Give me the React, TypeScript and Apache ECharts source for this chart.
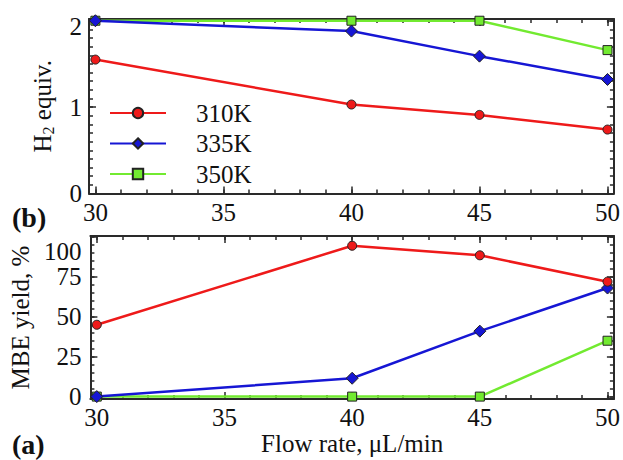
import React, { useEffect, useRef } from "react";
import * as echarts from "echarts";

const flowRates = [30, 40, 45, 50];
const seriesNames = ["310K", "335K", "350K"];
const h2_310 = [1.55, 1.03, 0.91, 0.74];
const h2_335 = [2.0, 1.88, 1.59, 1.32];
const h2_350 = [2.0, 2.0, 2.0, 1.66];
const mbe_310 = [45, 94.5, 88.5, 72];
const mbe_335 = [0, 11.5, 41, 68];
const mbe_350 = [0, 0, 0, 35];

const xMajor = [30, 35, 40, 45, 50];
const xMinor = [30,31,32,33,34,35,36,37,38,39,40,41,42,43,44,45,46,47,48,49,50];
const yTopMajor = [0, 1, 2];
const yTopMinor = [0,0.1,0.2,0.3,0.4,0.5,0.6,0.7,0.8,0.9,1,1.1,1.2,1.3,1.4,1.5,1.6,1.7,1.8,1.9,2];
const yBotMajor = [0, 25, 50, 75, 100];
const yBotMinor = [0,5,10,15,20,25,30,35,40,45,50,55,60,65,70,75,80,85,90,95,100];

const FONT = "'Liberation Serif', 'Times New Roman', serif";
const colors = ["#ee1a1a", "#1616d4", "#72ea30"];
const symbols = ["circle", "diamond", "rect"];
const symSizes = [9, 12, 9];
const AX = "#2a2a2a";

function xAxes(grid: number, labels: boolean, name?: string) {
  const base = { type: "value", gridIndex: grid, min: 29.75, max: 50.25, splitLine: { show: false } };
  const mk = (pos: string, major: boolean, showLabel: boolean) => ({
    ...base,
    position: pos,
    axisLine: { show: major, onZero: false, lineStyle: { color: AX, width: 2 } },
    axisTick: { show: true, inside: true, length: major ? 7 : 4, customValues: major ? xMajor : xMinor, lineStyle: { color: AX, width: 1.5 } },
    axisLabel: showLabel
      ? { show: true, customValues: xMajor, fontFamily: FONT, fontSize: 25, color: "#111", margin: 6 }
      : { show: false },
    ...(showLabel && name
      ? { name, nameLocation: "middle", nameGap: 30, nameTextStyle: { fontFamily: FONT, fontSize: 25, color: "#111" } }
      : {}),
  });
  return [mk("bottom", true, labels), mk("bottom", false, false), mk("top", true, false), mk("top", false, false)];
}

function yAxes(grid: number, min: number, max: number, major: number[], minor: number[], shifted: number, shiftPad: number, name: any, nameGap: number, margin: number) {
  const base = { type: "value", gridIndex: grid, min, max, splitLine: { show: false } };
  const mk = (pos: string, isMajor: boolean, showLabel: boolean) => ({
    ...base,
    position: pos,
    axisLine: { show: isMajor, onZero: false, lineStyle: { color: AX, width: 2 } },
    axisTick: { show: true, inside: true, length: isMajor ? 7 : 4, customValues: isMajor ? major : minor, lineStyle: { color: AX, width: 1.5 } },
    axisLabel: showLabel
      ? {
          show: true,
          customValues: major,
          margin,
          formatter: (v: number) => (v === shifted ? `{d|${v}}` : `{n|${v}}`),
          rich: {
            n: { fontFamily: FONT, fontSize: 25, color: "#111" },
            d: { fontFamily: FONT, fontSize: 25, color: "#111", padding: [shiftPad, 0, 0, 0] },
          },
        }
      : { show: false },
    ...(showLabel ? name : {}),
    ...(showLabel ? { nameGap } : {}),
  });
  return [mk("left", true, true), mk("left", false, false), mk("right", true, false), mk("right", false, false)];
}

export default function App() {
  const ref = useRef<HTMLDivElement>(null);
  useEffect(() => {
    if (!ref.current) return;
    const chart = echarts.init(ref.current, null, { renderer: "svg" });
    const topData = [h2_310, h2_335, h2_350];
    const botData = [mbe_310, mbe_335, mbe_350];
    const mkSeries = (vals: number[], i: number, xi: number, yi: number) => ({
      type: "line",
      name: seriesNames[i],
      xAxisIndex: xi,
      yAxisIndex: yi,
      data: flowRates.map((x, k) => [x, vals[k]]),
      symbol: symbols[i],
      symbolSize: symSizes[i],
      showAllSymbol: true,
      clip: false,
      lineStyle: { color: colors[i], width: 2.5 },
      itemStyle: { color: colors[i], borderColor: "#222", borderWidth: 1 },
      z: 3 + (2 - i),
    });
    const option: any = {
      animation: false,
      backgroundColor: "#fff",
      grid: [
        { left: 89, top: 19, width: 525, height: 174.5 },
        { left: 89, top: 236, width: 525, height: 163 },
      ],
      xAxis: [...xAxes(0, true), ...xAxes(1, true, "Flow rate, \u03bcL/min")],
      yAxis: [
        ...yAxes(0, 0, 2.02, yTopMajor, yTopMinor, 2, 12,
          {
            name: "{a|H}{s|2}{a| equiv.}",
            nameLocation: "middle",
            nameTextStyle: {
              rich: {
                a: { fontFamily: FONT, fontSize: 25, color: "#111", lineHeight: 28 },
                s: { fontFamily: FONT, fontSize: 16, color: "#111", verticalAlign: "bottom", lineHeight: 28 },
              },
            },
          }, 33, 7),
        ...yAxes(1, -1.5, 100.6, yBotMajor, yBotMinor, 100, 30,
          {
            name: "MBE yield, %",
            nameLocation: "middle",
            nameTextStyle: { fontFamily: FONT, fontSize: 25, color: "#111" },
          }, 52, 9),
      ],
      legend: {
        data: seriesNames,
        orient: "vertical",
        left: 104,
        top: 95,
        itemWidth: 56,
        itemHeight: 13,
        itemGap: 4.5,
        textStyle: { fontFamily: FONT, fontSize: 25, color: "#111", lineHeight: 26, padding: [0, 0, 0, 25] },
      },
      graphic: [
        { type: "text", left: 12, top: 203, style: { text: "(b)", fontFamily: FONT, fontSize: 28, fontWeight: "bold", fill: "#111" } },
        { type: "text", left: 12, top: 430, style: { text: "(a)", fontFamily: FONT, fontSize: 28, fontWeight: "bold", fill: "#111" } },
      ],
      series: [
        ...topData.map((v, i) => mkSeries(v, i, 0, 0)),
        ...botData.map((v, i) => mkSeries(v, i, 4, 4)),
      ],
    };
    chart.setOption(option);
    return () => chart.dispose();
  }, []);
  return <div ref={ref} style={{ position: "fixed", left: 0, top: 0, width: 623, height: 460 }} />;
}
